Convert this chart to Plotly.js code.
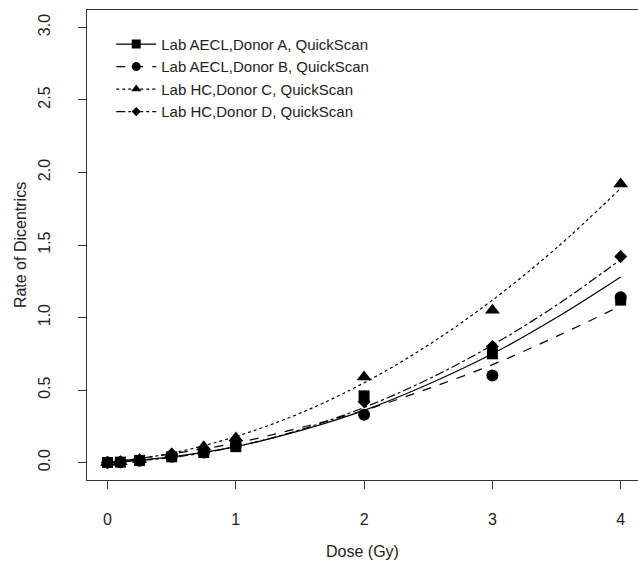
<!DOCTYPE html>
<html>
<head>
<meta charset="utf-8">
<script src="https://cdn.plot.ly/plotly-3.0.1.min.js"></script>
<style>html,body{margin:0;padding:0;background:#fff;}#chart{width:638px;height:563px;}</style>
</head>
<body>
<div id="chart"></div>
<script>
// Observed doses (Gy)
const doses = [0, 0.1, 0.25, 0.5, 0.75, 1, 2, 3, 4];
// Observed rates of dicentrics per donor
const donorA = [0.001, 0.003, 0.015, 0.04, 0.07, 0.11, 0.46, 0.75, 1.12];
const donorB = [0.000, 0.002, 0.012, 0.04, 0.07, 0.12, 0.33, 0.60, 1.14];
const donorC = [0.001, 0.005, 0.020, 0.06, 0.11, 0.17, 0.59, 1.05, 1.92];
const donorD = [0.001, 0.004, 0.018, 0.06, 0.09, 0.15, 0.42, 0.80, 1.42];
// Fitted curves, read at these doses
const fitDoses = [0, 0.5, 1, 1.5, 2, 2.5, 3, 3.5, 4];
const fitA = [0, 0.04, 0.11, 0.22, 0.36, 0.54, 0.75, 1.00, 1.28];
const fitB = [0, 0.06, 0.135, 0.24, 0.36, 0.51, 0.675, 0.87, 1.08];
const fitC = [0, 0.065, 0.18, 0.34, 0.55, 0.81, 1.12, 1.48, 1.89];
const fitD = [0, 0.035, 0.11, 0.225, 0.38, 0.575, 0.81, 1.085, 1.40];
const seriesNames = ["Lab AECL,Donor A, QuickScan", "Lab AECL,Donor B, QuickScan", "Lab HC,Donor C, QuickScan", "Lab HC,Donor D, QuickScan"];
const yTicks = [0, 0.5, 1, 1.5, 2, 2.5, 3];
const xTicks = [0, 1, 2, 3, 4];

const obs = [donorA, donorB, donorC, donorD];
const fits = [fitA, fitB, fitC, fitD];
const symbols = ["square", "circle", "triangle-up", "diamond"];
const sizes = [11, 12, 13, 10];
const dashes = ["solid", "dash", "dot", "dashdot"];

const traces = [];
for (let i = 0; i < 4; i++) {
  traces.push({
    x: fitDoses, y: fits[i], type: "scatter", mode: "lines",
    line: {color: "#000", width: 1.2, dash: dashes[i], shape: "spline", smoothing: 1},
    showlegend: false, hoverinfo: "skip", name: seriesNames[i]
  });
}
for (let i = 0; i < 4; i++) {
  traces.push({
    x: doses, y: obs[i], type: "scatter", mode: "markers",
    marker: {color: "#000", symbol: symbols[i], size: sizes[i]},
    showlegend: false, name: seriesNames[i]
  });
}
// legend entries (line + marker)
for (let i = 0; i < 4; i++) {
  traces.push({
    x: [null], y: [null], type: "scatter", mode: "lines+markers",
    line: {color: "#000", width: 1.2, dash: dashes[i]},
    marker: {color: "#000", symbol: symbols[i], size: i === 3 ? 7 : 9},
    name: seriesNames[i], showlegend: true
  });
}

const layout = {
  width: 638, height: 563,
  margin: {l: 87, r: 0, t: 10, b: 83},
  paper_bgcolor: "#fff", plot_bgcolor: "#fff",
  font: {family: "Liberation Sans, Arial, sans-serif", size: 16, color: "#222"},
  showlegend: true,
  legend: {x: 0.044, y: 0.962, xanchor: "left", yanchor: "top", bgcolor: "rgba(0,0,0,0)",
           font: {size: 15, color: "#222"}, tracegroupgap: 0, itemwidth: 40},
  xaxis: {
    range: [-0.16, 4.135], tickvals: xTicks, ticktext: xTicks.map(String),
    showgrid: false, zeroline: false, showline: true, linecolor: "#333", linewidth: 1, mirror: true,
    ticks: "outside", ticklen: 8, tickcolor: "#333", ticklabelstandoff: 17,
    title: {text: "Dose (Gy)", font: {size: 16, color: "#222"}, standoff: 18}
  },
  yaxis: {
    range: [-0.12, 3.12], tickvals: yTicks, ticktext: yTicks.map(v => v.toFixed(1)),
    tickangle: -90, showgrid: false, zeroline: false, showline: true, linecolor: "#333", linewidth: 1,
    ticks: "outside", ticklen: 8, tickcolor: "#333", ticklabelstandoff: 22,
    title: {text: "Rate of Dicentrics", font: {size: 16, color: "#222"}, standoff: 4}
  }
};

Plotly.newPlot("chart", traces, layout, {displayModeBar: false, staticPlot: true});
</script>
</body>
</html>
